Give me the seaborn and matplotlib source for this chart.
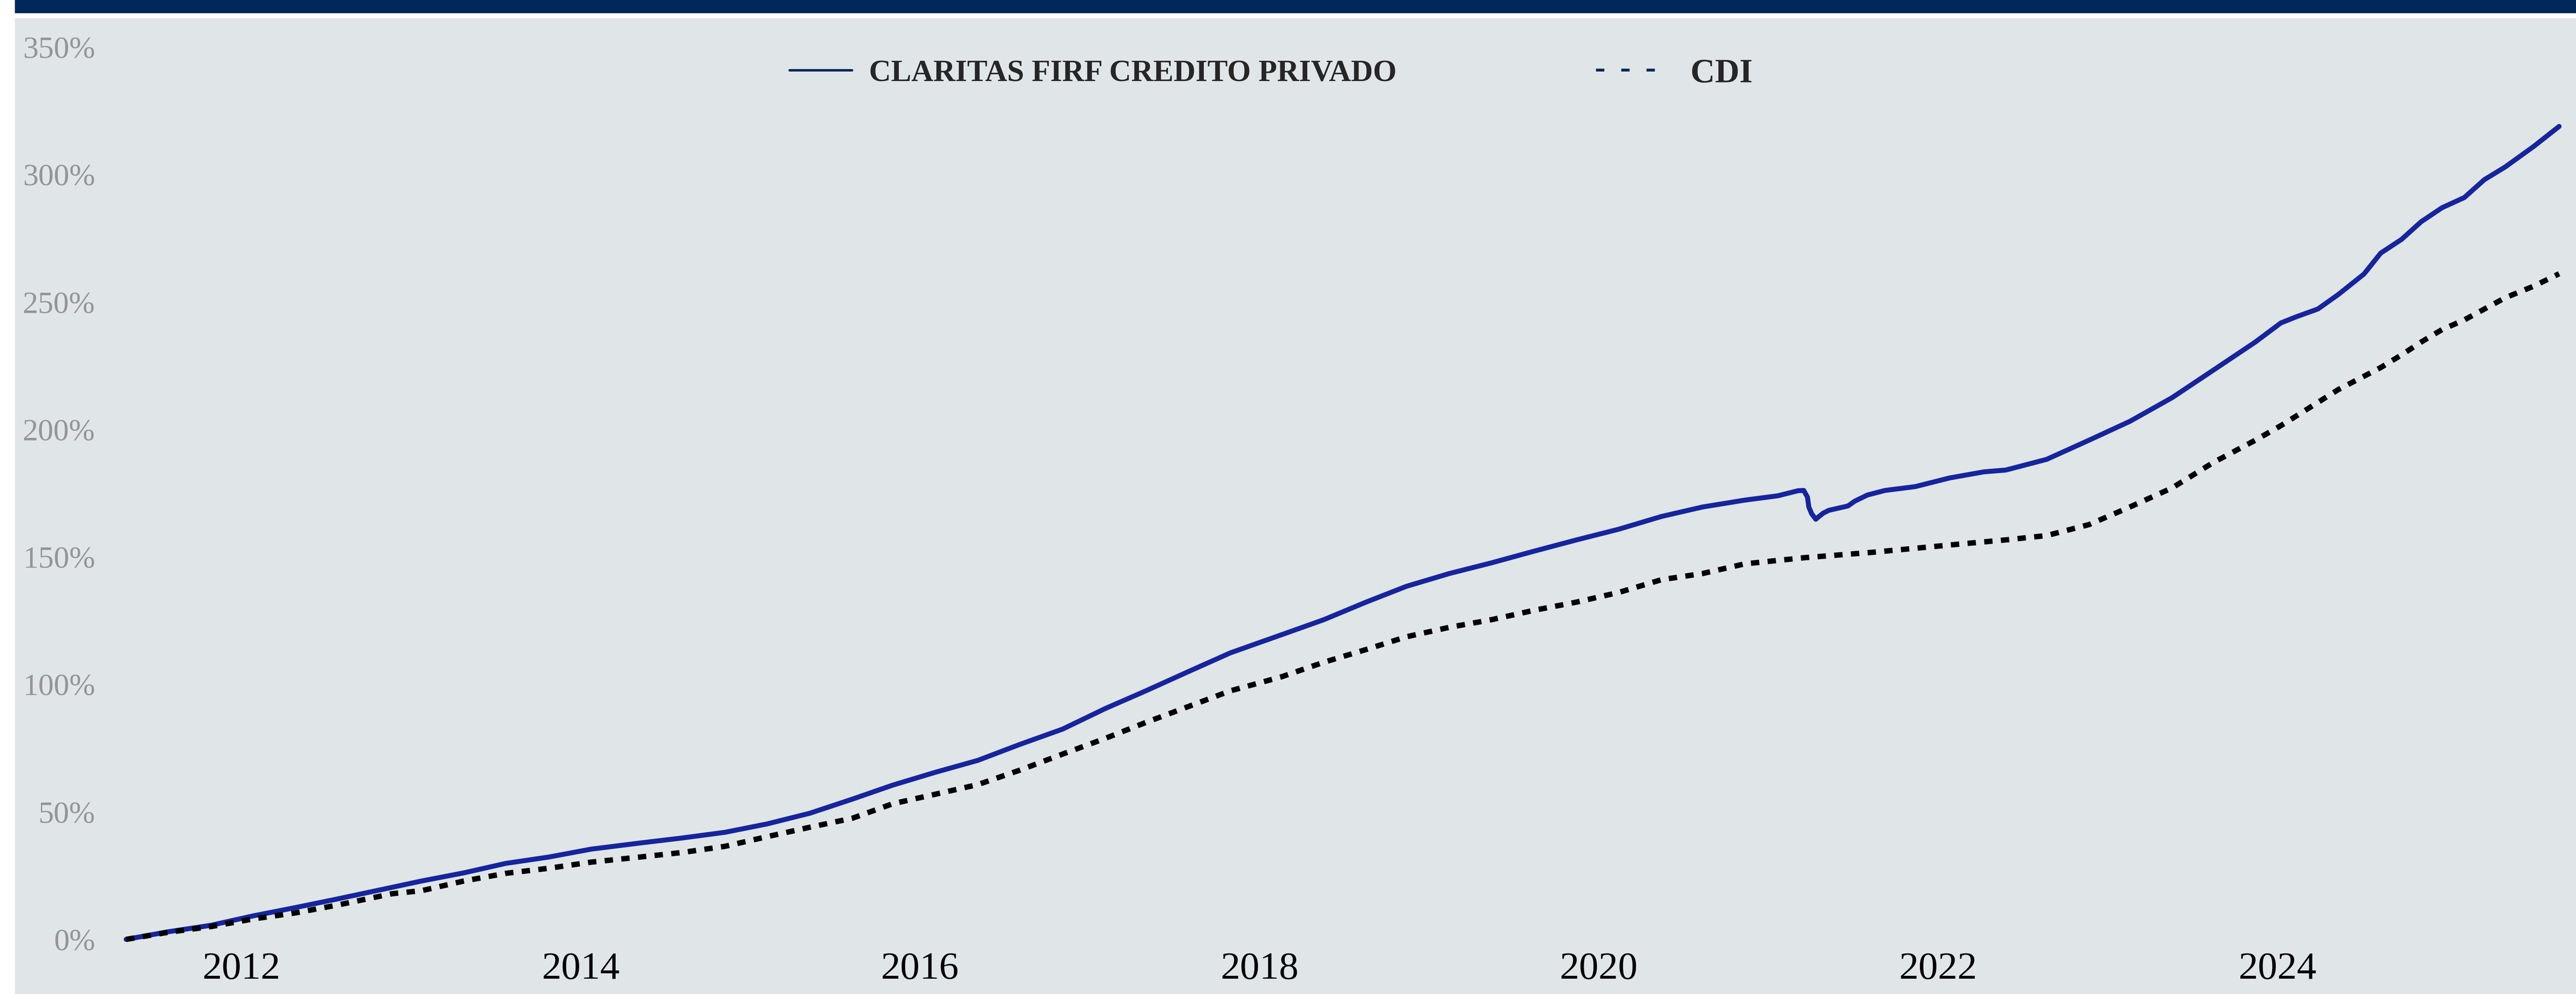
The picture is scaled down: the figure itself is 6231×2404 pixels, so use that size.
import pandas as pd
import numpy as np
import seaborn as sns
import matplotlib
matplotlib.use("Agg")
import matplotlib.pyplot as plt
import matplotlib.dates as mdates
from matplotlib.lines import Line2D
from matplotlib.patches import Rectangle

# cumulative return (%)
fund_dates = ["2011-04-28", "2011-07-28", "2011-10-27", "2012-01-26", "2012-04-27",
              "2012-07-27", "2012-11-20", "2013-01-23", "2013-04-24", "2013-07-23",
              "2013-10-24", "2014-01-23", "2014-05-08", "2014-08-08", "2014-11-07",
              "2015-02-06", "2015-05-09", "2015-08-08", "2015-11-03", "2016-02-02",
              "2016-05-04", "2016-08-03", "2016-11-03", "2017-02-02", "2017-05-01",
              "2017-07-31", "2017-10-30", "2018-02-17", "2018-05-19", "2018-08-18",
              "2018-11-13", "2019-02-13", "2019-05-15", "2019-08-15", "2019-11-14",
              "2020-02-13", "2020-05-15", "2020-08-11", "2020-11-10", "2021-01-20",
              "2021-03-05", "2021-03-17", "2021-03-25", "2021-03-28", "2021-04-03",
              "2021-04-12", "2021-04-19", "2021-04-28", "2021-05-10", "2021-06-20",
              "2021-07-05", "2021-08-01", "2021-09-08", "2021-11-12", "2022-01-25",
              "2022-04-09", "2022-05-26", "2022-08-22", "2022-11-21", "2023-02-17",
              "2023-05-19", "2023-08-15", "2023-11-14", "2024-01-08", "2024-02-10",
              "2024-03-28", "2024-05-11", "2024-07-05", "2024-08-10", "2024-09-24",
              "2024-11-05", "2024-12-20", "2025-02-06", "2025-03-21", "2025-05-05",
              "2025-07-05", "2025-08-29"]
fund_values = [0, 3.0, 5.5, 9.2, 12.5,
               15.9, 20.4, 22.9, 26.1, 29.8,
               32.3, 35.4, 37.8, 39.8, 42.0,
               45.3, 49.5, 55.0, 60.5, 65.5,
               70.2, 76.5, 82.5, 90.5, 97.5,
               105.0, 112.4, 119.5, 125.4, 132.3,
               138.5, 143.5, 147.7, 152.3, 156.7,
               160.9, 165.9, 169.6, 172.3, 174.0,
               176.0, 176.1, 173.5, 169.6, 167.0,
               164.8, 165.9, 167.2, 168.3, 170.0,
               171.9, 174.3, 176.1, 177.6, 181.0,
               183.4, 184.1, 188.3, 195.8, 203.2,
               212.5, 223.2, 234.3, 241.8, 244.2,
               247.3, 253.0, 261.0, 269.2, 274.6,
               281.5, 287.0, 291.0, 298.0, 303.0,
               311.0, 318.9]

cdi_dates = ["2011-04-28", "2011-07-28", "2011-10-27", "2012-01-26", "2012-04-27",
             "2012-07-27", "2012-11-20", "2013-01-23", "2013-04-24", "2013-07-23",
             "2013-10-24", "2014-01-23", "2014-05-08", "2014-08-08", "2014-11-07",
             "2015-02-06", "2015-05-09", "2015-08-08", "2015-11-03", "2016-02-02",
             "2016-05-04", "2016-08-03", "2016-11-03", "2017-02-02", "2017-05-01",
             "2017-07-31", "2017-10-30", "2018-02-17", "2018-05-19", "2018-08-18",
             "2018-11-13", "2019-02-13", "2019-05-15", "2019-08-15", "2019-11-14",
             "2020-02-13", "2020-05-15", "2020-08-11", "2020-11-10", "2021-03-17",
             "2021-08-10", "2022-02-24", "2022-05-26", "2022-08-22", "2022-11-21",
             "2023-02-17", "2023-05-19", "2023-08-15", "2023-11-14", "2024-01-08",
             "2024-05-11", "2024-08-10", "2024-09-24", "2024-11-05", "2024-12-20",
             "2025-02-06", "2025-05-05", "2025-07-05", "2025-08-29"]
cdi_values = [0, 2.8, 5.0, 8.0, 10.4,
              13.5, 17.9, 19.1, 22.9, 25.9,
              27.9, 30.3, 32.3, 34.1, 36.5,
              40.3, 44.0, 47.5, 53.2, 56.9,
              60.7, 66.4, 72.7, 78.8, 85.1,
              91.3, 97.5, 103.0, 108.7, 113.7,
              118.7, 122.4, 125.4, 129.1, 132.3,
              136.1, 141.1, 143.5, 147.3, 149.7,
              151.8, 155.2, 156.7, 158.4, 162.7,
              169.6, 177.1, 187.0, 195.8, 201.5,
              215.7, 224.3, 229.3, 234.3, 239.2,
              243.0, 251.7, 256.2, 261.1]

fund_name = "CLARITAS FIRF CREDITO PRIVADO"
bench_name = "CDI"
y_ticks = [0, 50, 100, 150, 200, 250, 300, 350]

df_fund = pd.DataFrame({"date": pd.to_datetime(fund_dates), "ret": fund_values})
df_cdi = pd.DataFrame({"date": pd.to_datetime(cdi_dates), "ret": cdi_values})

sns.set_theme(style="white")
plt.rcParams["font.family"] = ["Liberation Serif", "DejaVu Serif"]

navy = "#00285a"
bg = "#e0e5e8"

fig = plt.figure(figsize=(62.31, 24.049), dpi=100, facecolor="white")
W, H = 6231, 2405
fig.patches.append(Rectangle((36 / W, 0), 1, (H - 45) / H, transform=fig.transFigure,
                             facecolor=bg, edgecolor="none", zorder=-10))
fig.patches.append(Rectangle((36 / W, (H - 33) / H), 1, 33 / H, transform=fig.transFigure,
                             facecolor=navy, edgecolor="none", zorder=-10))

ax = fig.add_axes([240 / W, (H - 2300) / H, (6216 - 240) / W, (2300 - 60) / H])
ax.set_facecolor("none")

sns.lineplot(data=df_fund, x="date", y="ret", ax=ax, color="#16259e", linewidth=8.6,
             solid_capstyle="round", solid_joinstyle="round", clip_on=False)
sns.lineplot(data=df_cdi, x="date", y="ret", ax=ax, color="black", linewidth=9.4,
             clip_on=False)
ax.lines[-1].set_dashes((1.55, 1.55))
ax.lines[-1].set_dash_capstyle("butt")

ax.set_xlim(pd.Timestamp("2011-03-01"), pd.Timestamp("2025-09-21"))
ax.set_ylim(-4.4, 358.9)
ax.set_yticks(y_ticks)
ax.set_yticklabels([f"{v}%" for v in y_ticks])
ax.xaxis.set_major_locator(mdates.YearLocator(2))
ax.xaxis.set_major_formatter(mdates.DateFormatter("%Y"))
ax.tick_params(axis="y", labelsize=54, labelcolor="#959595", length=0, pad=7)
ax.tick_params(axis="x", labelsize=68, labelcolor="black", length=0, pad=2)
ax.set_xlabel("")
ax.set_ylabel("")
for s in ax.spines.values():
    s.set_visible(False)
ax.grid(False)

# two legend entries placed separately, as in the original
leg1 = ax.legend([Line2D([], [], color=navy, linewidth=4.3)], [fund_name],
                 loc="center left", bbox_to_anchor=(1910 / W, 1 - 179 / H),
                 bbox_transform=fig.transFigure, frameon=False, borderpad=0,
                 borderaxespad=0, prop={"size": 53, "weight": "bold"},
                 handlelength=2.05, handletextpad=0.56)
ax.add_artist(leg1)
ax.legend([Line2D([], [], color=navy, linewidth=5, dashes=(2.9, 5.9))], [bench_name],
          loc="center left", bbox_to_anchor=(3860 / W, 1 - 179 / H),
          bbox_transform=fig.transFigure, frameon=False, borderpad=0,
          borderaxespad=0, prop={"size": 59, "weight": "bold"},
          handlelength=1.8, handletextpad=0.99)

fig.savefig("out.png", dpi=100, facecolor="white")
